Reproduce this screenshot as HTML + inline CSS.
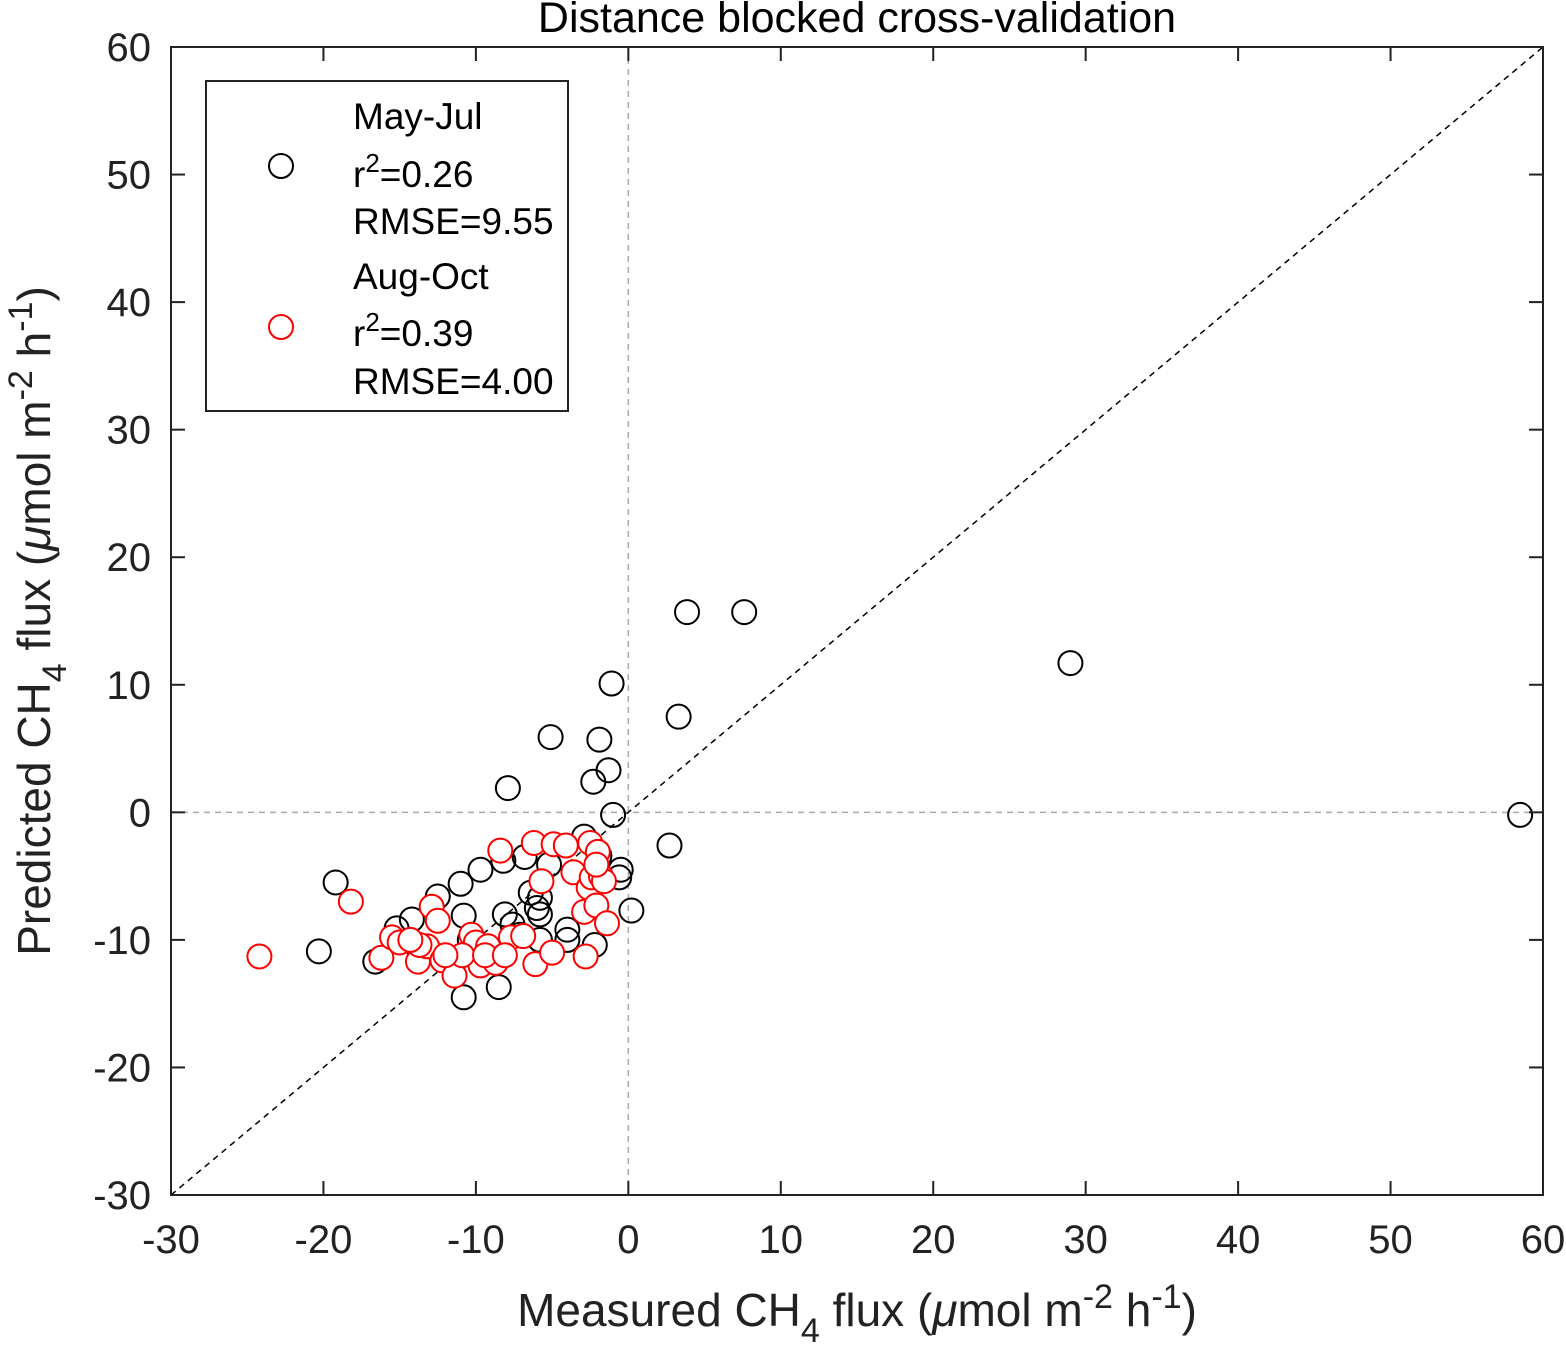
<!DOCTYPE html>
<html><head><meta charset="utf-8"><style>body{margin:0;background:#fff}svg{display:block;font-family:"Liberation Sans",Arial,sans-serif}</style></head>
<body>
<svg id="chart" width="1566" height="1349">
<g id="grid"></g><g id="pts"></g><g id="axes"></g>
</svg>
<script>
const xTicks=[-30,-20,-10,0,10,20,30,40,50,60];
const yTicks=[-30,-20,-10,0,10,20,30,40,50,60];
const mayX=[3.85,7.6,29.0,58.5,-1.1,3.3,-5.1,-1.9,-1.3,-2.3,-7.9,-1.0,2.7,0.2,-0.6,-2.9,-19.2,-20.3,-16.6,-10.8,-8.5,-11.0,-9.7,-12.5,-14.2,-10.8,-15.2,-8.1,-7.6,-6.8,-8.2,-6.4,-6.0,-5.8,-5.2,-4.0,-4.0,-5.8,-2.2,-0.5,-1.9,-7.1,-10.4,-13.7,-5.8];
const mayY=[15.7,15.7,11.7,-0.2,10.1,7.5,5.9,5.7,3.3,2.4,1.9,-0.2,-2.6,-7.7,-5.1,-1.9,-5.5,-10.9,-11.7,-14.5,-13.7,-5.6,-4.5,-6.6,-8.4,-8.1,-9.1,-8.0,-8.8,-3.5,-3.8,-6.3,-7.5,-6.7,-4.1,-9.2,-10.0,-10.0,-10.4,-4.5,-3.4,-9.6,-10.0,-10.8,-8.0];
const augX=[-24.2,-18.2,-16.2,-15.5,-15.0,-13.8,-13.2,-12.9,-12.5,-12.2,-11.4,-10.3,-10.0,-9.7,-9.2,-8.7,-8.4,-7.7,-6.9,-6.1,-6.2,-5.7,-5.0,-4.9,-4.1,-3.6,-2.8,-2.9,-2.6,-2.5,-2.4,-2.1,-1.8,-1.6,-1.4,-2.0,-2.1,-13.7,-14.3,-10.9,-9.4,-8.1,-12.0];
const augY=[-11.3,-7.0,-11.4,-9.8,-10.2,-11.7,-10.5,-7.4,-8.5,-11.6,-12.8,-9.6,-10.2,-12.0,-10.5,-11.8,-3.0,-9.8,-9.7,-11.9,-2.4,-5.4,-11.0,-2.5,-2.6,-4.7,-11.3,-7.8,-5.9,-2.4,-5.1,-7.3,-5.0,-5.4,-8.7,-3.1,-4.1,-10.4,-10.0,-11.2,-11.2,-11.2,-11.2];
const L=171,R=1543,T=47,B=1195;
const sx=v=>L+(v+30)/90*(R-L), sy=v=>B-(v+30)/90*(B-T);
const NS='http://www.w3.org/2000/svg';
function mk(p,t,a){const e=document.createElementNS(NS,t);for(const k in a)e.setAttribute(k,a[k]);p.appendChild(e);return e;}
const g=document.getElementById('grid'),pg=document.getElementById('pts'),ax=document.getElementById('axes');
let e=mk(g,'line',{x1:sx(0),x2:sx(0),y1:T,y2:B,stroke:'#aaa','stroke-width':1.5,'stroke-dasharray':'6,5'});

e=mk(g,'line',{x1:L,x2:R,y1:sy(0),y2:sy(0),stroke:'#aaa','stroke-width':1.5,'stroke-dasharray':'6,5'});

e=mk(g,'line',{x1:sx(-30),y1:sy(-30),x2:sx(60),y2:sy(60),stroke:'#000','stroke-width':1.5,'stroke-dasharray':'6,5'});

mayX.forEach((v,i)=>{const c=mk(pg,'circle',{cx:sx(v),cy:sy(mayY[i]),r:12,fill:'none',stroke:'#000','stroke-width':2});
});
augX.forEach((v,i)=>{const c=mk(pg,'circle',{cx:sx(v),cy:sy(augY[i]),r:12,fill:'#fff',stroke:'#f00','stroke-width':2});
});
e=mk(ax,'rect',{x:L,y:T,width:R-L,height:B-T,fill:'none',stroke:'#222','stroke-width':2});

xTicks.forEach(v=>{const x=sx(v);mk(ax,'line',{x1:x,x2:x,y1:B,y2:B-14,stroke:'#222','stroke-width':2});mk(ax,'line',{x1:x,x2:x,y1:T,y2:T+14,stroke:'#222','stroke-width':2});
const t=mk(ax,'text',{x:x,y:B+58,'text-anchor':'middle','font-size':40,fill:'#222'});t.textContent=v;
});
yTicks.forEach(v=>{const y=sy(v);mk(ax,'line',{x1:L,x2:L+14,y1:y,y2:y,stroke:'#222','stroke-width':2});mk(ax,'line',{x1:R,x2:R-14,y1:y,y2:y,stroke:'#222','stroke-width':2});
const t=mk(ax,'text',{x:L-20,y:y+14,'text-anchor':'end','font-size':40,fill:'#222'});t.textContent=v;
});
</script>
<svg style="position:absolute;left:0;top:0" width="1566" height="1349">
<text x="857" y="32" text-anchor="middle" font-size="43" fill="#000">Distance blocked cross-validation</text>
<text x="857" y="1326" text-anchor="middle" font-size="46" fill="#222">Measured CH<tspan font-size="34" dy="16">4</tspan><tspan dy="-16"> flux (</tspan><tspan font-style="italic">μ</tspan>mol m<tspan font-size="34" dy="-18">-2</tspan><tspan dy="18"> h</tspan><tspan font-size="34" dy="-18">-1</tspan><tspan dy="18">)</tspan></text>
<text transform="translate(50,621) rotate(-90)" text-anchor="middle" font-size="46" fill="#222">Predicted CH<tspan font-size="34" dy="16">4</tspan><tspan dy="-16"> flux (</tspan><tspan font-style="italic">μ</tspan>mol m<tspan font-size="34" dy="-18">-2</tspan><tspan dy="18"> h</tspan><tspan font-size="34" dy="-18">-1</tspan><tspan dy="18">)</tspan></text>
<g>
<rect x="206" y="81" width="362" height="330" fill="#fff" stroke="#222" stroke-width="2"/>
<circle cx="281" cy="166" r="12" fill="none" stroke="#000" stroke-width="2"/>
<circle cx="281" cy="327" r="12" fill="none" stroke="#f00" stroke-width="2"/>
<g font-size="37" fill="#000">
<text x="353" y="129">May-Jul</text>
<text x="353" y="187">r<tspan font-size="26" dy="-15">2</tspan><tspan dy="15">=0.26</tspan></text>
<text x="353" y="234">RMSE=9.55</text>
<text x="353" y="289">Aug-Oct</text>
<text x="353" y="346">r<tspan font-size="26" dy="-15">2</tspan><tspan dy="15">=0.39</tspan></text>
<text x="353" y="394">RMSE=4.00</text>
</g></g>
</svg>
</body></html>
